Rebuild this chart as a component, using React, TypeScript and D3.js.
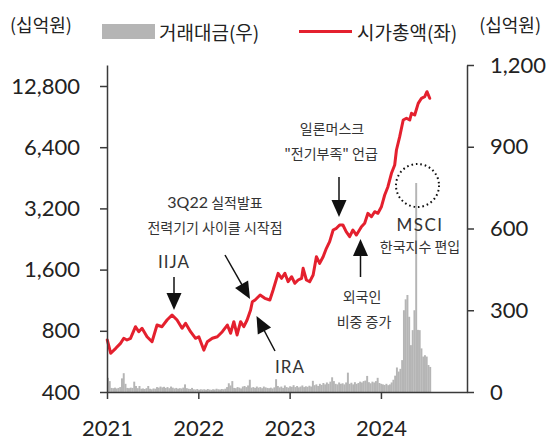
import React, { useEffect, useRef } from "react";
import * as d3 from "d3";

const W = 549;
const H = 440;

// 시가총액 (십억원), left log axis
const capDates = [
  "2021-01-02","2021-01-16","2021-02-05","2021-02-24","2021-03-09","2021-03-22","2021-04-05","2021-04-25",
  "2021-05-08","2021-05-21","2021-06-10","2021-06-30","2021-07-20","2021-08-09","2021-08-29","2021-09-18",
  "2021-10-08","2021-10-28","2021-11-11","2021-12-01","2021-12-21","2022-01-03","2022-01-23","2022-02-06",
  "2022-02-26","2022-03-18","2022-04-07","2022-04-27","2022-05-10","2022-05-23","2022-06-05","2022-06-19",
  "2022-07-02","2022-07-15","2022-07-29","2022-08-05","2022-08-16","2022-09-05","2022-09-24","2022-10-14",
  "2022-10-27","2022-11-16","2022-11-30","2022-12-13","2022-12-26","2023-01-09","2023-01-22","2023-02-04",
  "2023-02-18","2023-02-24","2023-03-09","2023-03-22","2023-04-05","2023-04-18","2023-05-01","2023-05-15",
  "2023-05-28","2023-06-10","2023-06-24","2023-07-07","2023-07-20","2023-08-02","2023-08-15","2023-08-29",
  "2023-09-11","2023-09-25","2023-10-15","2023-10-28","2023-11-10","2023-11-24","2023-12-07","2023-12-20",
  "2024-01-03","2024-01-16","2024-01-29","2024-02-12","2024-02-25","2024-03-03","2024-03-16","2024-03-30",
  "2024-04-12","2024-04-25","2024-05-02","2024-05-15","2024-05-29","2024-06-11","2024-06-24","2024-07-03",
  "2024-07-14"
];
const capValues = [
  721, 620, 656, 694, 735, 721, 735, 838,
  792, 823, 748, 707, 854, 838, 904, 957,
  904, 823, 871, 792, 735, 748, 643, 707,
  735, 748, 792, 854, 778, 887, 763, 887,
  838, 904, 1012, 1112, 1134, 1200, 1156, 1134,
  1270, 1534, 1450, 1534, 1395, 1476, 1370, 1422,
  1450, 1624, 1422, 1395, 1505, 1852, 1718, 1852,
  2036, 2195, 2506, 2554, 2652, 2652, 2458, 2323,
  2506, 2367, 2601, 2704, 3027, 2912, 3082, 3027,
  3263, 3724, 4092, 4764, 5232, 6200, 7210, 8708,
  8880, 8708, 9396, 9216, 10520, 11136, 11340, 12000,
  11136
];

// 거래대금 (십억원), weekly, right axis
const barStart = "2021-01-01";
const barValues = [
  52, 40, 15, 14, 16, 13, 15, 18, 50, 69, 30, 15, 14, 16, 15, 38, 22, 14, 22, 12,
  13, 11, 14, 22, 12, 10, 13, 12, 18, 16, 20, 17, 19, 15, 18, 14, 20, 16, 13, 15,
  12, 14, 13, 16, 28, 14, 12, 11, 15, 10, 9, 11, 8, 10, 9, 10, 8, 11, 9, 8,
  10, 9, 12, 10, 9, 11, 10, 12, 18, 32, 24, 40, 15, 14, 18, 16, 13, 20, 22, 18,
  24, 45, 16, 18, 15, 20, 16, 18, 14, 20, 17, 15, 14, 16, 13, 17, 47, 22, 17, 20,
  15, 24, 18, 16, 21, 19, 25, 18, 22, 17, 20, 24, 18, 21, 19, 23, 20, 41, 25, 28,
  22, 30, 26, 33, 28, 35, 30, 38, 54, 40, 30, 28, 35, 30, 32, 28, 35, 71, 30, 34,
  28, 36, 30, 33, 38, 35, 40, 42, 59, 36, 32, 38, 35, 40, 52, 33, 30, 28, 26, 30,
  25, 28, 35, 45, 60, 90, 75, 85, 117, 300, 340, 356, 276, 172, 227, 300, 767, 228, 227, 160,
  130, 135, 130, 99, 92
];

const leftTicks = [400, 800, 1600, 3200, 6400, 12800];
const rightTicks = [0, 300, 600, 900, 1200];
const yearTicks = ["2021", "2022", "2023", "2024"];

const legendLabels = ["거래대금(우)", "시가총액(좌)"];
const unitLabel = "(십억원)";

const FONT_NUM = "Lato, 'Noto Sans', sans-serif";
const FONT_KR = "'Noto Sans CJK KR', 'Noto Sans', sans-serif";
const RED = "#e4202e";
const GREY = "#b5b5b5";
const AXIS = "#3a3a3a";
const TXT = "#222";

const parse = d3.timeParse("%Y-%m-%d");

const X0 = 107, X1 = 467, YB = 392, YT = 65;

const x = d3.scaleTime().domain([new Date(2021, 0, 1), new Date(2024, 11, 10)]).range([X0, X1]);
const yL = d3.scaleLog().base(2).domain([400, 400 * Math.pow(2, (YB - YT) / 61.2)]).range([YB, YT]);
const yR = d3.scaleLinear().domain([0, 1200]).range([YB, YT]);

function Arrow({ tail, tip }: { tail: [number, number]; tip: [number, number] }) {
  const dx = tip[0] - tail[0], dy = tip[1] - tail[1];
  const len = Math.hypot(dx, dy);
  const ux = dx / len, uy = dy / len;
  const hl = 17, hw = 7.5;
  const bx = tip[0] - ux * hl, by = tip[1] - uy * hl;
  const nx = -uy, ny = ux;
  const pts = [
    [tip[0], tip[1]],
    [bx + nx * hw, by + ny * hw],
    [bx - nx * hw, by - ny * hw],
  ].map((p) => p.join(",")).join(" ");
  return (
    <g>
      <line x1={tail[0]} y1={tail[1]} x2={bx + ux * 2} y2={by + uy * 2} stroke="#111" strokeWidth={1.5} />
      <polygon points={pts} fill="#111" />
    </g>
  );
}

export default function App() {
  const gL = useRef<SVGGElement>(null);
  const gR = useRef<SVGGElement>(null);
  const gB = useRef<SVGGElement>(null);

  const capData = capDates.map((d, i) => ({ date: parse(d) as Date, v: capValues[i] }));
  const start = parse(barStart) as Date;
  const barData = barValues.map((v, i) => ({ date: d3.timeDay.offset(start, 7 * i), v }));

  const line = d3
    .line<{ date: Date; v: number }>()
    .x((d) => x(d.date))
    .y((d) => yL(d.v));

  useEffect(() => {
    const style = (g: d3.Selection<SVGGElement, unknown, null, undefined>) => {
      g.attr("font-family", FONT_NUM).attr("font-size", 22);
      g.selectAll("path.domain").attr("stroke", AXIS).attr("stroke-width", 1.5);
      g.selectAll(".tick line").attr("stroke", AXIS).attr("stroke-width", 1.5);
      g.selectAll(".tick text").attr("fill", TXT);
    };
    const l = d3.select(gL.current!);
    l.call(
      d3.axisLeft(yL).tickValues(leftTicks).tickSize(7).tickSizeOuter(0).tickPadding(20).tickFormat((d) => d3.format(",")(d as number))
    );
    style(l);
    const r = d3.select(gR.current!);
    r.call(
      d3.axisRight(yR).tickValues(rightTicks).tickSize(7).tickSizeOuter(0).tickPadding(16).tickFormat((d) => d3.format(",")(d as number))
    );
    style(r);
    const b = d3.select(gB.current!);
    b.call(
      d3.axisBottom(x)
        .tickValues(yearTicks.map((y) => new Date(+y, 0, 1)))
        .tickSize(7)
        .tickSizeOuter(0)
        .tickPadding(21)
        .tickFormat((d) => d3.timeFormat("%Y")(d as Date))
    );
    style(b);
  }, []);

  const barW = x(d3.timeDay.offset(start, 7)) - x(start) + 0.2;

  return (
    <svg width={W} height={H} style={{ position: "absolute", left: 0, top: 0, background: "#fff" }}>
      {/* bars */}
      <g>
        {barData.map((d, i) => (
          <rect key={i} x={x(d.date)} y={yR(d.v)} width={barW} height={yR(0) - yR(d.v)} fill={GREY} />
        ))}
      </g>
      {/* line */}
      <path d={line(capData) || ""} fill="none" stroke={RED} strokeWidth={3} strokeLinejoin="round" strokeLinecap="round" />

      {/* axes */}
      <g ref={gL} transform={`translate(${X0},0)`} />
      <g ref={gR} transform={`translate(${X1},0)`} />
      <g ref={gB} transform={`translate(0,${YB})`} />

      {/* legend */}
      <g fontFamily={FONT_KR} fill={TXT}>
        <text x={10} y={24} fontSize={18} dominantBaseline="central">{unitLabel}</text>
        <text x={541} y={24} fontSize={18} textAnchor="end" dominantBaseline="central">{unitLabel}</text>
        <rect x={102} y={24} width={53} height={15} fill={GREY} />
        <text x={159} y={31} fontSize={19} dominantBaseline="central">{legendLabels[0]}</text>
        <line x1={299} x2={352} y1={31.5} y2={31.5} stroke={RED} strokeWidth={3} />
        <text x={357} y={31} fontSize={19} dominantBaseline="central">{legendLabels[1]}</text>
      </g>

      {/* annotations */}
      <g fontFamily={FONT_KR} fontSize={14} fill="#333" textAnchor="middle">
        <text x={332} y={134}>일론머스크</text>
        <text x={331} y={159}>"전기부족" 언급</text>
        <text x={215} y={208}><tspan fontFamily={FONT_NUM} fontSize={16}>3Q22</tspan> 실적발표</text>
        <text x={215} y={233}>전력기기 사이클 시작점</text>
        <text x={174} y={268} fontFamily={FONT_NUM} fontSize={17} letterSpacing={1}>IIJA</text>
        <text x={420} y={231} fontFamily={FONT_NUM} fontSize={17} letterSpacing={1.5}>MSCI</text>
        <text x={420} y={252}>한국지수 편입</text>
        <text x={362} y={302}>외국인</text>
        <text x={364} y={327}>비중 증가</text>
        <text x={290} y={373} fontFamily={FONT_NUM} fontSize={17} letterSpacing={1}>IRA</text>
      </g>
      <Arrow tail={[174, 277]} tip={[174, 310]} />
      <Arrow tail={[339, 177]} tip={[339, 217]} />
      <Arrow tail={[360.5, 277]} tip={[360.5, 239]} />
      <Arrow tail={[225, 255]} tip={[250, 299]} />
      <Arrow tail={[275, 351]} tip={[256.5, 316]} />
      <circle cx={417.5} cy={185.5} r={21.5} fill="none" stroke="#111" strokeWidth={2} strokeDasharray="1.6 2.9" />
    </svg>
  );
}
